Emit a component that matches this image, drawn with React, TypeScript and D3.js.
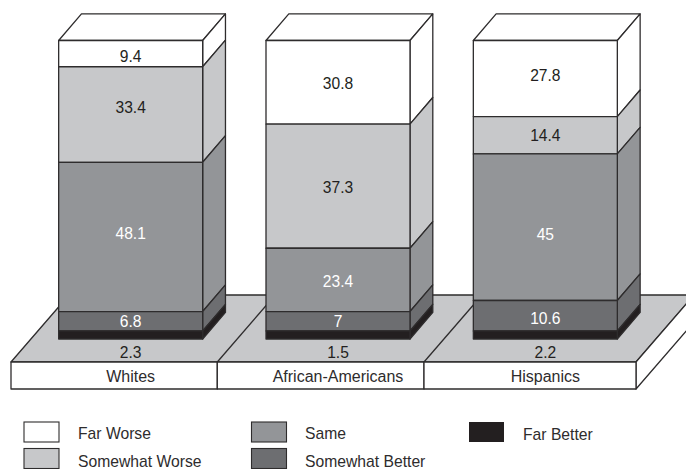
import React from "react";
import * as d3 from "d3";

const categories = ["Whites", "African-Americans", "Hispanics"];
const seriesNames = ["Far Worse", "Somewhat Worse", "Same", "Somewhat Better", "Far Better"];
const seriesColors = ["#ffffff", "#c7c8ca", "#939598", "#6d6e71", "#231f20"];
const labelColors = ["#231f20", "#231f20", "#ffffff", "#ffffff", "#231f20"];

// Printed labels, top segment first
const whitesLabels = ["9.4", "33.4", "48.1", "6.8", "2.3"];
const africanLabels = ["30.8", "37.3", "23.4", "7", "1.5"];
const hispanicLabels = ["27.8", "14.4", "45", "10.6", "2.2"];

// Segment sizes as actually drawn in the picture (share of the bar)
const whitesDrawn = [8.8, 32.0, 50.0, 6.5, 2.7];
const africanDrawn = [28.0, 41.6, 21.2, 6.5, 2.7];
const hispanicDrawn = [25.5, 12.5, 49.1, 10.2, 2.7];

// Height on the bar's 0-100 scale at which each printed label sits
const whitesLabelAt = [94.8, 77.4, 35.2, 5.7, -4.4];
const africanLabelAt = [85.7, 50.8, 19.4, 5.7, -4.4];
const hispanicLabelAt = [88.3, 68.1, 35.0, 7.0, -4.4];

const drawn = [whitesDrawn, africanDrawn, hispanicDrawn];
const labels = [whitesLabels, africanLabels, hispanicLabels];
const labelAt = [whitesLabelAt, africanLabelAt, hispanicLabelAt];

const W = 686;
const H = 469;
const INK = "#2e2c2d";
const FONT = "'Liberation Sans', Arial, sans-serif";

const y = d3.scaleLinear().domain([0, 100]).range([339, 40.5]);
const x = d3.scaleBand<string>().domain(categories).range([27, 649]).paddingInner(0).paddingOuter(0);

const barHalf = 72;
const depthX = 22.8;
const depthY = 26.6;
const floorFront = 362;
const floorBottom = 389;
const floorDX = 58;
const floorDY = 67;
const cellEdges = [11, 217.3, 424, 636];

const poly = (pts: [number, number][]) => (d3.line()(pts) as string) + "Z";

function Bar({ i }: { i: number }) {
  const cx = x(categories[i])! + x.bandwidth() / 2;
  const l = cx - barHalf;
  const r = cx + barHalf;
  const tops = d3.cumsum(drawn[i]);
  return (
    <g stroke={INK} strokeWidth={1.3} strokeLinejoin="round">
      <path d={poly([[l, y(100)], [l + depthX, y(100) - depthY], [r + depthX, y(100) - depthY], [r, y(100)]])} fill="#fff" />
      {drawn[i].map((_, j) => {
        const a = y(100 - (j === 0 ? 0 : tops[j - 1]));
        const b = y(100 - tops[j]);
        return (
          <g key={j}>
            <path d={poly([[r, a], [r + depthX, a - depthY], [r + depthX, b - depthY], [r, b]])} fill={seriesColors[j]} />
            <rect x={l} y={a} width={r - l} height={b - a} fill={seriesColors[j]} />
          </g>
        );
      })}
    </g>
  );
}

export default function App() {
  return (
    <svg
      width={W}
      height={H}
      viewBox={`0 0 ${W} ${H}`}
      style={{ position: "absolute", left: 0, top: 0, background: "#fff" }}
      fontFamily={FONT}
    >
      {/* floor */}
      <g stroke={INK} strokeWidth={1.3} strokeLinejoin="round">
        <path
          d={poly([
            [cellEdges[0], floorFront],
            [cellEdges[0] + floorDX, floorFront - floorDY],
            [cellEdges[3] + floorDX, floorFront - floorDY],
            [cellEdges[3], floorFront],
          ])}
          fill="#c7c8ca"
        />
        <path
          d={poly([
            [cellEdges[3], floorFront],
            [cellEdges[3] + floorDX, floorFront - floorDY],
            [cellEdges[3] + floorDX, floorBottom - floorDY],
            [cellEdges[3], floorBottom],
          ])}
          fill="#fff"
        />
        {cellEdges.slice(1, 3).map((e) => (
          <line key={e} x1={e} y1={floorFront} x2={e + floorDX} y2={floorFront - floorDY} />
        ))}
        {categories.map((c, i) => (
          <rect
            key={c}
            x={cellEdges[i]}
            y={floorFront}
            width={cellEdges[i + 1] - cellEdges[i]}
            height={floorBottom - floorFront}
            fill="#fff"
          />
        ))}
      </g>

      {categories.map((c, i) => (
        <Bar key={c} i={i} />
      ))}

      {/* labels */}
      <g fontSize={15.6} textAnchor="middle" dominantBaseline="central">
        {categories.map((c, i) => {
          const cx = x(c)! + x.bandwidth() / 2;
          return (
            <g key={c}>
              {labels[i].map((t, j) => (
                <text key={j} x={cx} y={y(labelAt[i][j])} fill={labelColors[j]}>
                  {t}
                </text>
              ))}
              <text x={cx} y={376.5} fill={INK} fontSize={16}>
                {c}
              </text>
            </g>
          );
        })}
      </g>

      {/* legend */}
      <g fontSize={15.7} fill={INK}>
        {seriesNames.map((n, j) => {
          const col = Math.floor(j / 2);
          const row = j % 2;
          const sx = [24, 251.5, 469][col];
          const sy = [422, 448.5][row];
          const tx = [78, 305, 523][col];
          const ty = [433, 461][row] + (col === 2 ? 1.5 : 0);
          return (
            <g key={n}>
              <rect x={sx} y={sy} width={35} height={20} fill={seriesColors[j]} stroke={j === 4 ? "none" : INK} strokeWidth={1.1} />
              <text x={tx} y={ty} dominantBaseline="central">
                {n}
              </text>
            </g>
          );
        })}
      </g>
    </svg>
  );
}
